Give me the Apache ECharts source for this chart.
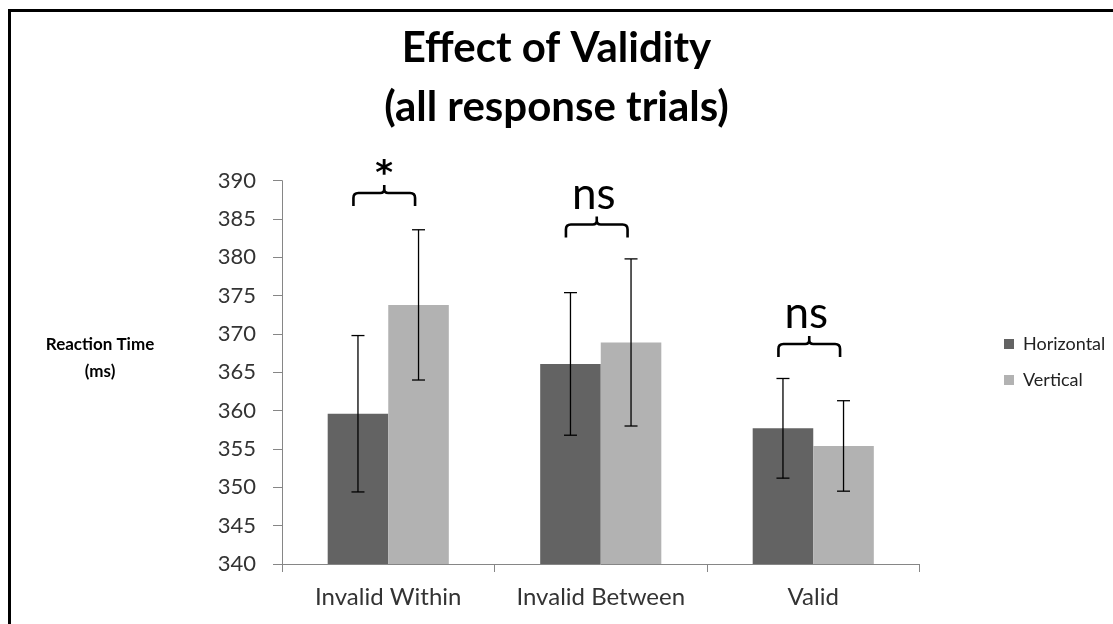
<!DOCTYPE html>
<html>
<head>
<meta charset="utf-8">
<script src="https://cdn.jsdelivr.net/npm/echarts@6/dist/echarts.min.js"></script>
<style>
html,body{margin:0;padding:0;background:#fff;}
#chart{width:1113px;height:624px;}
</style>
</head>
<body>
<div id="chart"></div>
<script>
// ---- data ----
const categories = ['Invalid Within', 'Invalid Between', 'Valid'];
const seriesNames = ['Horizontal', 'Vertical'];
const horizontal = [359.6, 366.1, 357.7];
const vertical = [373.8, 368.9, 355.4];
const horizontalErr = [10.2, 9.3, 6.5];
const verticalErr = [9.8, 10.9, 5.9];
const yMin = 340, yMax = 390, yStep = 5;
const bracketLabels = ['*', 'ns', 'ns'];
const bracketLevels = [386.7, 382.6, 367.0];
const titleText = 'Effect of Validity\n(all response trials)';
const yAxisTitle = 'Reaction Time\n(ms)';

const FONT = 'Lato, "Open Sans", sans-serif';
const BAR_FRAC = 0.285;

const chart = echarts.init(document.getElementById('chart'));

function errData(vals, errs) {
  return vals.map((v, i) => [i, v - errs[i], v + errs[i]]);
}
function errRender(side) {
  return function (params, api) {
    const i = api.value(0);
    const lo = api.coord([i, api.value(1)]);
    const hi = api.coord([i, api.value(2)]);
    const band = api.size([1, 0])[0];
    const x = lo[0] + side * band * BAR_FRAC / 2;
    const cap = 6.5;
    const st = { stroke: '#000', lineWidth: 1.3 };
    return {
      type: 'group',
      children: [
        { type: 'line', shape: { x1: x, y1: lo[1], x2: x, y2: hi[1] }, style: st },
        { type: 'line', shape: { x1: x - cap, y1: lo[1], x2: x + cap, y2: lo[1] }, style: st },
        { type: 'line', shape: { x1: x - cap, y1: hi[1], x2: x + cap, y2: hi[1] }, style: st }
      ]
    };
  };
}
function bracketRender(params, api) {
  const i = api.value(0);
  const p = api.coord([i, api.value(1)]);
  const band = api.size([1, 0])[0];
  const half = band * 0.145;
  const xc = p[0] - 4;
  const x1 = xc - half, x2 = xc + half;
  const yb = p[1], yt = yb - 13, tip = yt - 8;
  const d = 'M' + x1 + ' ' + yb + ' L' + x1 + ' ' + (yt + 5) + ' Q' + x1 + ' ' + yt + ' ' + (x1 + 5) + ' ' + yt +
    ' L' + (xc - 4) + ' ' + yt + ' Q' + xc + ' ' + yt + ' ' + xc + ' ' + (yt - 4) + ' L' + xc + ' ' + tip +
    ' M' + xc + ' ' + (yt - 4) + ' Q' + xc + ' ' + yt + ' ' + (xc + 4) + ' ' + yt +
    ' L' + (x2 - 5) + ' ' + yt + ' Q' + x2 + ' ' + yt + ' ' + x2 + ' ' + (yt + 5) + ' L' + x2 + ' ' + yb;
  const label = bracketLabels[i];
  const isStar = label === '*';
  return {
    type: 'group',
    children: [
      { type: 'path', shape: { pathData: d }, style: { stroke: '#000', lineWidth: 2.6, fill: null } },
      {
        type: 'text',
        style: {
          text: label, x: isStar ? xc : xc - 3, y: isStar ? tip - 10 : tip - 22,
          align: 'center', verticalAlign: 'middle',
          fontSize: isStar ? 34 : 44, fontWeight: isStar ? 'bold' : 'normal',
          fontFamily: isStar ? '"DejaVu Sans", sans-serif' : FONT, fill: '#000'
        }
      }
    ]
  };
}

const option = {
  backgroundColor: '#fff',
  animation: false,
  title: {
    text: titleText,
    left: 'center',
    top: 14,
    textStyle: { fontFamily: FONT, fontWeight: 'bold', fontSize: 42, lineHeight: 59, color: '#000' }
  },
  legend: {
    data: seriesNames,
    orient: 'vertical',
    left: 999,
    top: 330,
    itemWidth: 10,
    itemHeight: 10,
    itemGap: 18,
    icon: 'rect',
    textStyle: { fontFamily: FONT, fontSize: 18, color: '#222', padding: [0, 0, 0, 4] }
  },
  grid: { left: 282, right: 193.5, top: 180.7, bottom: 60, containLabel: false },
  xAxis: {
    type: 'category',
    data: categories,
    axisLine: { lineStyle: { color: '#868686', width: 1 } },
    axisTick: { show: true, length: 8, interval: 0, lineStyle: { color: '#868686' } },
    axisLabel: { fontFamily: FONT, fontSize: 24, color: '#333', margin: 21, interval: 0 }
  },
  yAxis: {
    type: 'value',
    min: yMin, max: yMax, interval: yStep,
    splitLine: { show: false },
    axisLine: { show: true, lineStyle: { color: '#868686', width: 1 } },
    axisTick: { show: true, length: 9, lineStyle: { color: '#868686' } },
    axisLabel: { fontFamily: FONT, fontSize: 22, color: '#333', margin: 26 }
  },
  graphic: [
    { type: 'rect', shape: { x: 9.5, y: 10.5, width: 1300, height: 800 }, style: { fill: null, stroke: '#000', lineWidth: 3 }, silent: true },
    { type: 'text', x: 100, y: 358, style: { text: yAxisTitle, align: 'center', verticalAlign: 'middle', fontFamily: FONT, fontWeight: 'bold', fontSize: 17, lineHeight: 27, fill: '#000' } }
  ],
  series: [
    { name: seriesNames[0], type: 'bar', data: horizontal, barWidth: (BAR_FRAC * 100) + '%', barGap: '0%', itemStyle: { color: '#636363' } },
    { name: seriesNames[1], type: 'bar', data: vertical, barWidth: (BAR_FRAC * 100) + '%', barGap: '0%', itemStyle: { color: '#b2b2b2' } },
    { name: 'errH', type: 'custom', data: errData(horizontal, horizontalErr), encode: { x: 0, y: [1, 2] }, renderItem: errRender(-1), z: 10 },
    { name: 'errV', type: 'custom', data: errData(vertical, verticalErr), encode: { x: 0, y: [1, 2] }, renderItem: errRender(1), z: 10 },
    { name: 'brackets', type: 'custom', data: bracketLevels.map((v, i) => [i, v]), encode: { x: 0, y: 1 }, renderItem: bracketRender, z: 10, clip: false }
  ]
};
chart.setOption(option);
</script>
</body>
</html>
